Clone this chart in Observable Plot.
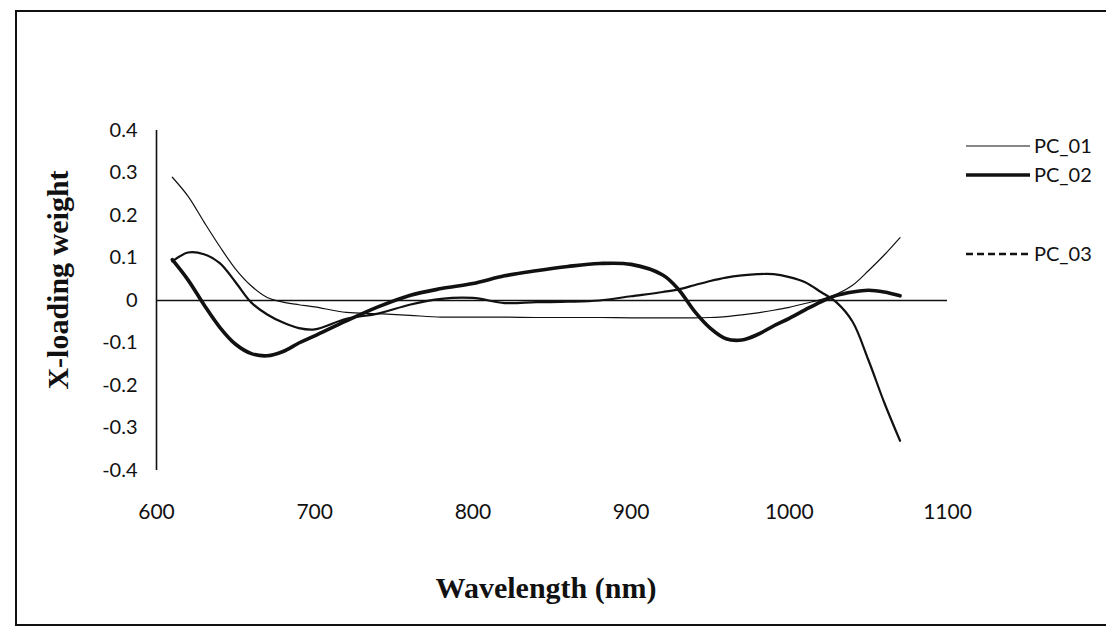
<!DOCTYPE html>
<html>
<head>
<meta charset="utf-8">
<script src="https://cdn.jsdelivr.net/npm/d3@7"></script>
<script src="https://cdn.jsdelivr.net/npm/@observablehq/plot@0.6"></script>
<style>
  html, body { margin: 0; padding: 0; background: #fff; overflow: hidden; }
  #chart { width: 1106px; height: 636px; }
</style>
</head>
<body>
<div id="chart"></div>
<script>
// ---- data ----
const wavelength = [610,620,630,640,650,660,670,680,690,700,720,740,760,780,800,820,840,860,880,900,920,930,940,950,960,970,980,990,1000,1010,1020,1030,1040,1050,1060,1070];
const pc01 = [0.290,0.245,0.185,0.127,0.074,0.034,0.007,-0.004,-0.010,-0.015,-0.028,-0.031,-0.035,-0.039,-0.039,-0.039,-0.040,-0.040,-0.040,-0.041,-0.041,-0.041,-0.041,-0.040,-0.038,-0.034,-0.029,-0.023,-0.016,-0.007,0.002,0.015,0.036,0.070,0.107,0.148];
const pc02 = [0.096,0.048,-0.010,-0.063,-0.103,-0.125,-0.130,-0.120,-0.100,-0.083,-0.048,-0.015,0.012,0.028,0.040,0.058,0.070,0.080,0.087,0.085,0.060,0.026,-0.025,-0.065,-0.090,-0.093,-0.080,-0.060,-0.042,-0.022,-0.003,0.012,0.020,0.024,0.020,0.011];
const pc03 = [0.092,0.113,0.109,0.088,0.043,-0.005,-0.033,-0.052,-0.065,-0.068,-0.043,-0.031,-0.010,0.004,0.006,-0.006,-0.004,-0.003,0.000,0.010,0.020,0.026,0.036,0.046,0.054,0.059,0.062,0.062,0.055,0.043,0.020,-0.005,-0.050,-0.140,-0.240,-0.330];
const seriesNames = ["PC_01","PC_02","PC_03"];
const xTicks = [600,700,800,900,1000,1100];
const yTicks = [-0.4,-0.3,-0.2,-0.1,0,0.1,0.2,0.3,0.4];
const yTickLabels = ["-0.4","-0.3","-0.2","-0.1","0","0.1","0.2","0.3","0.4"];
const xTitle = "Wavelength (nm)";
const yTitle = "X-loading weight";

// ---- table built from arrays ----
const seriesValues = [pc01, pc02, pc03];
const rows = [];
seriesNames.forEach((name, s) => {
  wavelength.forEach((w, i) => rows.push({series: name, wavelength: w, value: seriesValues[s][i]}));
});
const widths = {PC_01: 1.2, PC_02: 3.6, PC_03: 2.2};

const marks = [
  Plot.ruleY([0], {stroke: "#111", strokeWidth: 1.4}),
  Plot.ruleX([600], {y1: -0.4, y2: 0.4, stroke: "#111", strokeWidth: 1.6}),
  Plot.axisY({ticks: yTicks, tickSize: 0, tickPadding: 19, tickFormat: d => yTickLabels[yTicks.indexOf(d)], label: null, fontSize: 20}),
  Plot.axisX({ticks: xTicks, tickSize: 0, tickPadding: 34, tickFormat: d => String(d), label: null, fontSize: 21})
];
seriesNames.forEach(name => {
  marks.push(Plot.line(rows.filter(r => r.series === name), {
    x: "wavelength", y: "value", stroke: "#111", strokeWidth: widths[name], curve: "catmull-rom"
  }));
});

const chart = Plot.plot({
  width: 1106,
  height: 636,
  marginLeft: 156,
  marginRight: 159,
  marginTop: 130,
  marginBottom: 166,
  style: {fontFamily: "Lato, 'Open Sans', sans-serif", fontSize: "20px", color: "#111", background: "#fff", overflow: "hidden"},
  x: {domain: [600, 1100]},
  y: {domain: [-0.4, 0.4]},
  marks
});
document.getElementById("chart").appendChild(chart);

// ---- decorations: frame, titles, legend ----
const svg = d3.select(chart);
svg.append("path").attr("d", "M1106,11 H16 V625 H1106")
  .attr("fill", "none").attr("stroke", "#111").attr("stroke-width", 2);

svg.append("text").text(xTitle)
  .attr("x", 546).attr("y", 598).attr("text-anchor", "middle")
  .attr("font-family", "'Liberation Serif', 'DejaVu Serif', serif")
  .attr("font-weight", "bold").attr("font-size", 30).attr("fill", "#111");

svg.append("text").text(yTitle)
  .attr("transform", "translate(58,280) rotate(-90)")
  .attr("text-anchor", "middle").attr("dy", "0.33em")
  .attr("font-family", "'Liberation Serif', 'DejaVu Serif', serif")
  .attr("font-weight", "bold").attr("font-size", 30).attr("fill", "#111");

const legendY = [146, 175, 254];
const legendDash = [null, null, "7,4"];
const lg = svg.append("g").attr("font-family", "Lato, 'Open Sans', sans-serif").attr("font-size", 20).attr("fill", "#111");
seriesNames.forEach((name, i) => {
  lg.append("line").attr("x1", 966).attr("x2", 1030).attr("y1", legendY[i]).attr("y2", legendY[i])
    .attr("stroke", "#111").attr("stroke-width", i === 2 ? 2.4 : widths[name])
    .attr("stroke-dasharray", legendDash[i]);
  lg.append("text").text(name).attr("x", 1034).attr("y", legendY[i]).attr("dy", "0.35em")
    .attr("text-anchor", "start");
});
</script>
</body>
</html>
